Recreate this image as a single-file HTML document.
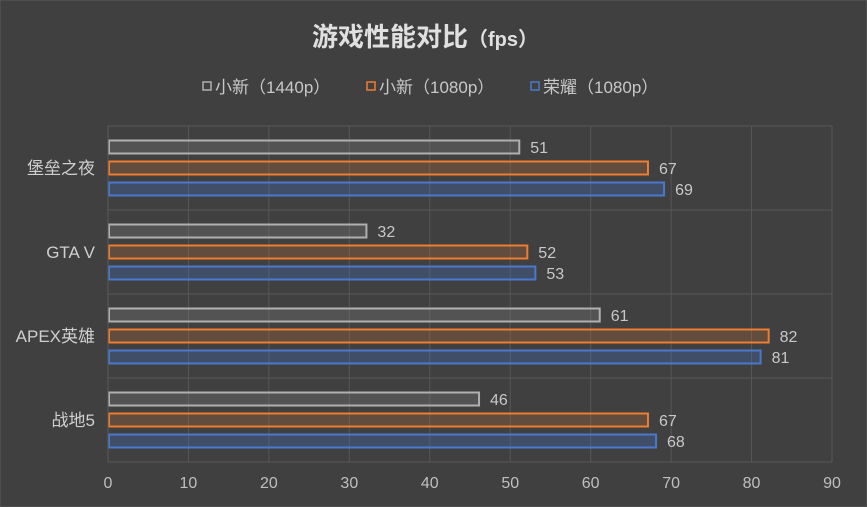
<!DOCTYPE html>
<html><head><meta charset="utf-8"><style>
body{margin:0;background:#404040;}
svg{display:block;font-family:"Liberation Sans","Noto Sans CJK SC",sans-serif;}
</style></head><body>
<svg id="c" width="867" height="507">
<rect x="0" y="0" width="867" height="507" fill="#404040" stroke="#5a5a5a"/>
<text x="425" y="46" text-anchor="middle" fill="#e0e0e0" font-size="26" font-weight="bold">游戏性能对比<tspan font-size="20">（fps）</tspan></text>
<g id="legend"></g>
<g id="grid"></g>
<g id="bars"></g>
<g id="axes"></g>
</svg>
<script>
const categories=["堡垒之夜","GTA V","APEX英雄","战地5"];
const seriesNames=["小新（1440p）","小新（1080p）","荣耀（1080p）"];
const s1440=[51,32,61,46];
const s1080=[67,52,82,67];
const honor=[69,53,81,68];
const xTicks=[0,10,20,30,40,50,60,70,80,90];
const series=[s1440,s1080,honor];
const strokes=["#b0b0b0","#ed7d31","#4a78cc"];
const fills=["rgba(120,120,120,0.35)","rgba(237,125,49,0.2)","rgba(68,114,196,0.3)"];
const ns="http://www.w3.org/2000/svg";
const X0=109,X1=833,Y0=126,Y1=462;
const x=v=>X0+(v-xTicks[0])/(xTicks[xTicks.length-1]-xTicks[0])*(X1-X0);
const band=(Y1-Y0)/categories.length;
const yc=i=>Y0+band*(i+0.5);
function mk(t,a,p){const e=document.createElementNS(ns,t);for(const k in a)e.setAttribute(k,a[k]);p.appendChild(e);return e;}
const grid=document.getElementById('grid'),bars=document.getElementById('bars'),axes=document.getElementById('axes'),leg=document.getElementById('legend');
xTicks.forEach((t,i)=>{
 if(i>0){const l=mk('line',{x1:x(t)-1,x2:x(t)-1,y1:Y0,y2:Y1,stroke:'#575757','stroke-width':1},grid);
 
 }
 const tx=mk('text',{x:x(t)-1,y:488,'text-anchor':'middle',fill:'#bfbfbf','font-size':16},axes);
 tx.textContent=t;
 
 
});
for(let i=0;i<=categories.length;i++){
 const l=mk('line',{x1:X0-1,x2:X1-1,y1:Y0+band*i,y2:Y0+band*i,stroke:'#575757'},grid);
 
 
}
const yl=mk('line',{x1:X0-1,x2:X0-1,y1:Y0,y2:Y1,stroke:'#5a5a5a'},axes);


categories.forEach((c,i)=>{
 const t=mk('text',{x:95,y:yc(i)+6,'text-anchor':'end',fill:'#cfcfcf','font-size':17},axes);
 t.textContent=c;
 
 
 series.forEach((s,j)=>{
  const cy=yc(i)+(j-1)*21;
  const r=mk('rect',{x:X0,y:cy-6.5,width:x(s[i])-X0,height:13,fill:fills[j],stroke:strokes[j],'stroke-width':2},bars);
  
  
  const v=mk('text',{x:x(s[i])+11,y:cy+6,fill:'#c8c8c8','font-size':16},bars);
  v.textContent=s[i];
  
  
 });
});
const lx=[203,367,531];
seriesNames.forEach((n,j)=>{
 const r=mk('rect',{x:lx[j],y:82,width:8,height:8,fill:'none',stroke:strokes[j],'stroke-width':1.5},leg);
 
 
 const t=mk('text',{x:lx[j]+12,y:93,fill:'#c8c8c8','font-size':17},leg);
 t.textContent=n;
 
 
});
</script>
</body></html>
